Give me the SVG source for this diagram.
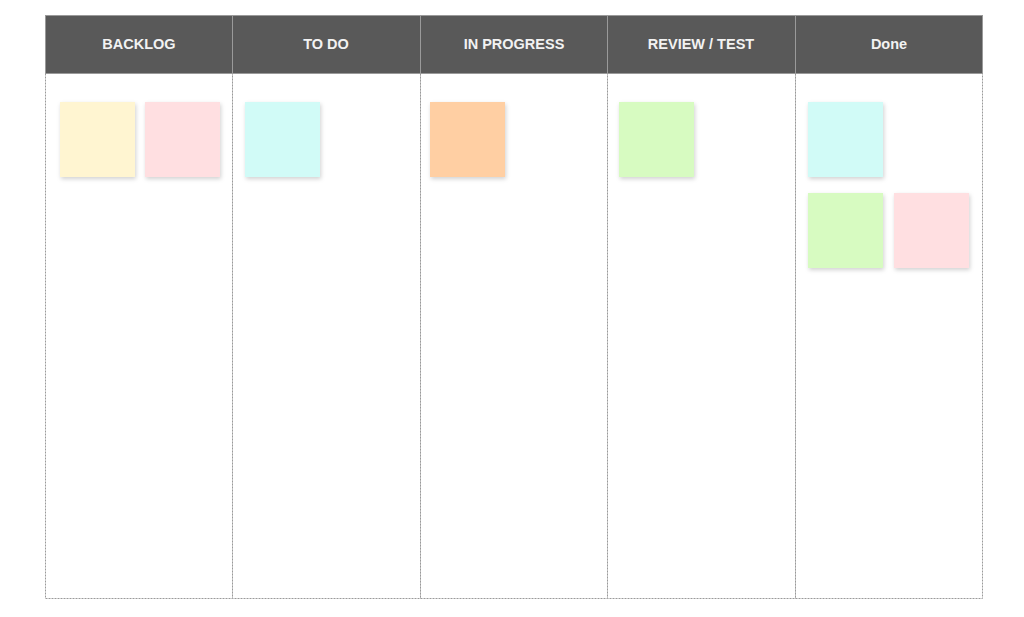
<svg xmlns="http://www.w3.org/2000/svg" width="1024" height="617" viewBox="0 0 1024 617">
<defs>
<filter id="sh" x="-20%" y="-20%" width="150%" height="150%">
<feDropShadow dx="1" dy="2" stdDeviation="2" flood-color="#000" flood-opacity="0.18"/>
</filter>
<style>
.hd{fill:#595959;stroke:#9a9a9a;stroke-width:1}
.col{fill:#fff;stroke:#9a9a9a;stroke-width:1;stroke-dasharray:2 1}
.ht{font-family:"Liberation Sans",Arial,sans-serif;font-weight:bold;font-size:14.5px;fill:#f2f2f2;text-anchor:middle}
.st{filter:url(#sh)}
</style>
</defs>
<rect width="1024" height="617" fill="#fff"/>
<g id="col-backlog">
<rect class="col" x="45.5" y="73.5" width="187" height="525"/>
<rect class="hd" x="45.5" y="15.5" width="187" height="58"/>
<text class="ht" x="139" y="49">BACKLOG</text>
</g>
<g id="col-todo">
<rect class="col" x="232.5" y="73.5" width="188" height="525"/>
<rect class="hd" x="232.5" y="15.5" width="188" height="58"/>
<text class="ht" x="326" y="49">TO DO</text>
</g>
<g id="col-inprogress">
<rect class="col" x="420.5" y="73.5" width="187" height="525"/>
<rect class="hd" x="420.5" y="15.5" width="187" height="58"/>
<text class="ht" x="514" y="49">IN PROGRESS</text>
</g>
<g id="col-review">
<rect class="col" x="607.5" y="73.5" width="188" height="525"/>
<rect class="hd" x="607.5" y="15.5" width="188" height="58"/>
<text class="ht" x="701" y="49">REVIEW / TEST</text>
</g>
<g id="col-done">
<rect class="col" x="795.5" y="73.5" width="187" height="525"/>
<rect class="hd" x="795.5" y="15.5" width="187" height="58"/>
<text class="ht" x="889" y="49">Done</text>
</g>
<g id="note-backlog-1"><rect class="st" x="60" y="102" width="75" height="75" fill="#FFF5D1"/></g>
<g id="note-backlog-2"><rect class="st" x="145" y="102" width="75" height="75" fill="#FFDFE1"/></g>
<g id="note-todo-1"><rect class="st" x="245" y="102" width="75" height="75" fill="#D1FBF7"/></g>
<g id="note-inprogress-1"><rect class="st" x="430" y="102" width="75" height="75" fill="#FFCFA3"/></g>
<g id="note-review-1"><rect class="st" x="619" y="102" width="75" height="75" fill="#D7FBC1"/></g>
<g id="note-done-1"><rect class="st" x="808" y="102" width="75" height="75" fill="#D1FBF7"/></g>
<g id="note-done-2"><rect class="st" x="808" y="193" width="75" height="75" fill="#D7FBC1"/></g>
<g id="note-done-3"><rect class="st" x="894" y="193" width="75" height="75" fill="#FFDFE1"/></g>
<g id="connectors"></g>
</svg>
